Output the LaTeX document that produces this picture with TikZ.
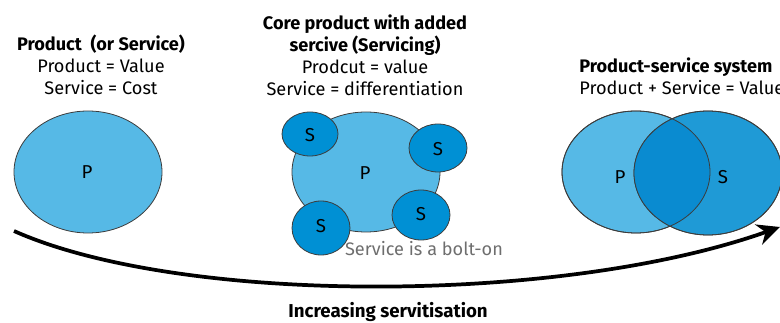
\documentclass[tikz,border=0pt]{standalone}
\usepackage{fontspec}
\setmainfont{Fira Sans}
\usetikzlibrary{arrows.meta}

\tikzset{every picture/.style={line width=0.6pt}}
\definecolor{pblue}{RGB}{86,185,230}
\definecolor{sblue}{RGB}{0,144,212}
\definecolor{svblue}{RGB}{31,154,214}
\definecolor{midblue}{RGB}{10,139,208}
\definecolor{rimgray}{RGB}{60,60,60}
\definecolor{notegray}{RGB}{110,110,110}
\tikzset{
  blob/.style={draw=rimgray, line width=0.6pt},
  txt/.style={font=\fontsize{13.6}{16.5}\selectfont, align=center, inner sep=0pt},
  ttl/.style={font=\fontsize{14}{16.5}\selectfont\bfseries, align=center, inner sep=0pt},
  lbl/.style={font=\fontsize{14}{15}\selectfont, inner sep=0pt}
}

\begin{document}
\begin{tikzpicture}[x=0.75pt,y=0.75pt,yscale=-1,xscale=1]
	\useasboundingbox (0,0) rectangle (780,323);

	%Shape: Ellipse [id:product]
	\draw [blob, fill=pblue] (88,172) ellipse [x radius=74, y radius=61];
	% Text Node
	\node [lbl] (prodP) at (87,172) {P};
	% Text Node
	\node [txt] (prodText) at (101,65) {\textbf{Product\ \ (or Service)}\\Product = Value\\Service = Cost};

	%Shape: Ellipse [id:core]
	\draw [blob, fill=pblue] (366,172) ellipse [x radius=74, y radius=60];
	%Shape: Ellipse [id:bolt1]
	\draw [blob, fill=sblue] (310,134) ellipse [x radius=28, y radius=22];
	%Shape: Ellipse [id:bolt2]
	\draw [blob, fill=sblue] (438,148) ellipse [x radius=29, y radius=24];
	%Shape: Ellipse [id:bolt3]
	\draw [blob, fill=sblue] (321,228) ellipse [x radius=29, y radius=27];
	%Shape: Ellipse [id:bolt4]
	\draw [blob, fill=sblue] (421,215) ellipse [x radius=29, y radius=25];
	% Text Node
	\node [lbl] (coreP) at (365,173) {P};
	\node [lbl] (boltS1) at (310,135) {S};
	\node [lbl] (boltS2) at (438,149) {S};
	\node [lbl] (boltS3) at (321,226) {S};
	\node [lbl] (boltS4) at (421,214) {S};
	% Text Node
	\node [txt] (coreText) at (365,55.5) {\textbf{Core product with added}\\\textbf{sercive (Servicing)}\\Prodcut = value\\Service = differentiation};
	% Text Node
	\node [txt, text=notegray] (boltNote) at (424,249) {Service is a bolt-on};

	%Shape: Ellipse [id:pss_product]
	\draw [blob, fill=pblue] (636,172) ellipse [x radius=74, y radius=61];
	%Shape: Ellipse [id:pss_service]
	\draw [blob, fill=svblue] (708,173) ellipse [x radius=74, y radius=62];
	\begin{scope}
		\clip (636,172) ellipse [x radius=74, y radius=61];
		\fill [midblue] (708,173) ellipse [x radius=74, y radius=62];
	\end{scope}
	\draw [blob] (636,172) ellipse [x radius=74, y radius=61];
	\draw [blob] (708,173) ellipse [x radius=74, y radius=62];
	% Text Node
	\node [lbl] (pssP) at (620,177) {P};
	\node [lbl] (pssS) at (723,177) {S};
	% Text Node
	\node [txt, align=left, anchor=west] (pssText) at (579,76) {\textbf{Product-service system}\\Product + Service = Value};

	%Curve Lines [id:servitisation]
	\coordinate (arrStart) at (14,231);
	\coordinate (arrEnd) at (780,227);
	\draw [line width=2.8pt, -{Stealth[length=17pt, width=16pt]}] (arrStart) .. controls (180,305) and (560,305) .. (arrEnd);
	% Text Node
	\node [ttl] (servText) at (388,312) {Increasing servitisation};

\end{tikzpicture}
\end{document}
